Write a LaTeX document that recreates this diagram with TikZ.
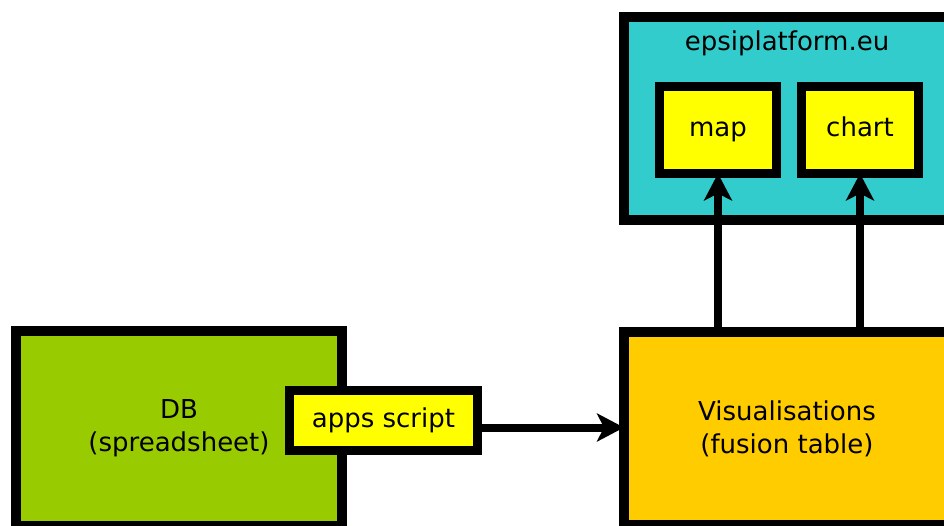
\documentclass[tikz,border=0pt]{standalone}
\usepackage{fontspec}
\setmainfont{DejaVu Sans}
\usetikzlibrary{arrows.meta}
\definecolor{cyanc}{HTML}{33CCCC}
\definecolor{yellowc}{HTML}{FFFF00}
\definecolor{greenc}{HTML}{99CC00}
\definecolor{orangec}{HTML}{FFCC00}
\begin{document}
\begin{tikzpicture}[x=1pt,y=-1pt,
  bigbox/.style={draw=black,line width=10pt,inner sep=0pt,outer sep=0pt,rectangle,minimum width=326pt},
  smallbox/.style={draw=black,line width=9pt,fill=yellowc,inner sep=0pt,outer sep=0pt,rectangle,
    font=\fontsize{26}{33}\selectfont,text height=19pt,text depth=6pt},
  lbl/.style={font=\fontsize{26}{33}\selectfont,align=center,inner sep=0pt},
  arr/.style={line width=8pt,-{Stealth[length=27pt,width=28pt,inset=7pt]}}]
\clip (0,0) rectangle (944,525);
\fill[white] (0,0) rectangle (944,525);
% top platform box
\node[bigbox,fill=cyanc,minimum height=203pt] (epsi) at (787,118.5) {};
\node[lbl] (epsititle) at (787,43) {epsiplatform.eu};
\node[smallbox,minimum width=117pt,minimum height=87pt] (map) at (718,130) {map};
\node[smallbox,minimum width=117pt,minimum height=87pt] (chart) at (860,130) {chart};
% DB
\node[bigbox,fill=greenc,minimum height=195pt,lbl,draw=black,line width=10pt] (db) at (179,428.5) {DB\\(spreadsheet)};
% Visualisations
\node[bigbox,fill=orangec,minimum height=193pt,lbl,draw=black,line width=10pt] (vis) at (787,428.5) {Visualisations\\(fusion table)};
% apps script
\node[smallbox,minimum width=188pt,minimum height=60pt] (apps) at (383.5,420.5) {apps script};
% connectors
\coordinate (a1) at ([yshift=-7pt]apps.east);
\draw[arr] (a1) -- (a1 -| vis.west);
\draw[arr] (map.south |- vis.north) -- (map.south);
\draw[arr] (chart.south |- vis.north) -- (chart.south);
\end{tikzpicture}
\end{document}
